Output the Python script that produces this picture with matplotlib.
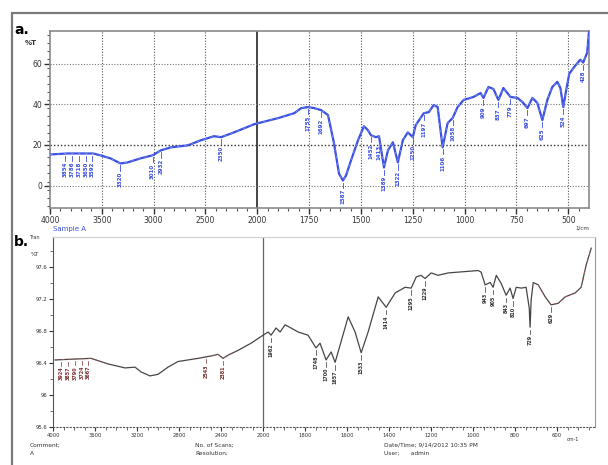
import numpy as np
import matplotlib.pyplot as plt
from matplotlib.patches import Rectangle
from matplotlib.ticker import FixedLocator, NullFormatter

# FTIR spectrum a (Sample A), wavenumber in 1/cm and transmittance in %T
wn_a = [4000, 3835, 3680, 3583, 3515, 3417, 3320, 3252, 3126, 3010, 2932, 2835,
        2670, 2544, 2417, 2350, 2223, 2029, 1899, 1822, 1788, 1755, 1726, 1692,
        1659, 1630, 1606, 1587, 1572, 1548, 1514, 1486, 1466, 1452, 1428, 1413,
        1389, 1370, 1346, 1322, 1298, 1274, 1250, 1236, 1197, 1173, 1149, 1130,
        1106, 1082, 1058, 1034, 1005, 957, 923, 909, 885, 861, 837, 813, 779,
        745, 721, 697, 673, 649, 625, 601, 577, 553, 538, 524, 510, 495, 470,
        442, 428, 409, 400]
t_a = [15.3, 15.8, 15.8, 15.8, 14.9, 13.4, 10.9, 11.4, 13.4, 14.9, 17.3, 18.8,
       19.8, 22.3, 24.3, 23.8, 26.2, 30.2, 33.2, 35.6, 38.1, 38.6, 38.1, 37.1,
       34.7, 20.8, 5.9, 2.5, 5.0, 12.4, 22.3, 29.2, 27.2, 24.8, 23.8, 24.3,
       8.9, 17.3, 21.3, 11.4, 22.3, 26.2, 23.8, 29.7, 35.6, 36.1, 39.6, 38.6,
       18.8, 30.7, 33.2, 38.6, 42.1, 43.6, 45.5, 43.1, 48.5, 47.5, 42.1, 48.0,
       43.6, 43.1, 41.1, 38.1, 43.1, 40.6, 32.2, 42.1, 48.5, 51.0, 48.0, 38.6,
       47.0, 55.0, 58.5, 61.9, 60.5, 65.3, 75.7]
peaks_a = [3854, 3786, 3718, 3650, 3592, 3320, 3010, 2932, 2350, 1755, 1692,
           1587, 1452, 1413, 1389, 1322, 1250, 1197, 1106, 1058, 909, 837, 779,
           697, 625, 524, 428]

# FTIR spectrum b
wn_b = [3980, 3638, 3476, 3314, 3219, 3162, 3076, 3000, 2905, 2810, 2619, 2495,
        2429, 2381, 2333, 2238, 2114, 2000, 1976, 1962, 1938, 1919, 1895, 1867,
        1833, 1786, 1748, 1729, 1700, 1676, 1657, 1633, 1595, 1562, 1533, 1500,
        1452, 1414, 1371, 1324, 1295, 1271, 1248, 1229, 1200, 1167, 1119, 976,
        962, 943, 919, 905, 890, 867, 843, 824, 810, 795, 771, 748, 733, 729,
        724, 714, 690, 657, 629, 595, 562, 514, 486, 462, 438]
t_b = [96.44, 96.46, 96.39, 96.34, 96.35, 96.29, 96.24, 96.26, 96.35, 96.42,
       96.46, 96.49, 96.51, 96.46, 96.50, 96.56, 96.65, 96.75, 96.79, 96.75,
       96.84, 96.79, 96.88, 96.84, 96.79, 96.75, 96.59, 96.65, 96.44, 96.54,
       96.41, 96.63, 96.98, 96.79, 96.53, 96.79, 97.23, 97.10, 97.28, 97.35,
       97.34, 97.48, 97.50, 97.46, 97.53, 97.50, 97.53, 97.56, 97.54, 97.38,
       97.41, 97.35, 97.50, 97.40, 97.25, 97.34, 97.21, 97.35, 97.34, 97.35,
       97.09, 96.85, 97.19, 97.41, 97.38, 97.23, 97.13, 97.15, 97.23, 97.28,
       97.35, 97.63, 97.84]
peaks_b_red = [3924, 3857, 3790, 3724, 3667, 2543, 2381]
peaks_b = [1962, 1748, 1700, 1657, 1533, 1414, 1295, 1229, 943, 905, 843, 810,
           729, 629]

ticks_a = [4000, 3500, 3000, 2500, 2000, 1750, 1500, 1250, 1000, 750, 500]
ticks_b = [4000, 3600, 3200, 2800, 2400, 2000, 1800, 1600, 1400, 1200, 1000,
           800, 600]
yticks_b = [95.6, 96.0, 96.4, 96.8, 97.2, 97.6]


def fwd(w):
    # region below 2000 1/cm is drawn at double scale
    w = np.asarray(w, dtype=float)
    return np.where(w >= 2000, w, 2 * w - 2000)


def inv(u):
    u = np.asarray(u, dtype=float)
    return np.where(u >= 2000, u, (u + 2000) / 2)


def curve_at(w, wn, t):
    return np.interp(w, wn[::-1], t[::-1])


fig = plt.figure(figsize=(6.08, 4.65), dpi=100)
fig.patches.append(Rectangle((12 / 608, -0.05), 1.0, 1.05 - 13 / 465,
                             transform=fig.transFigure, fill=False,
                             edgecolor='#7a7a7a', lw=1.6))

# ---- panel a ----
ax = fig.add_axes([50 / 608, 1 - 208 / 465, 539 / 608, 177 / 465])
ax.set_xscale('function', functions=(fwd, inv))
ax.set_xlim(4000, 400)
ax.set_ylim(-11, 76)
for x in ticks_a[1:]:
    if x == 2000:
        ax.axvline(x, color='#444444', lw=1.4, zorder=1)
    else:
        ax.axvline(x, color='#555555', lw=0.8, ls=(0, (1, 1.5)), zorder=1)
for y in [0, 20, 40, 60]:
    ax.axhline(y, color='#333333' if y == 20 else '#777777',
               lw=1.0 if y == 20 else 0.8, ls=(0, (1, 1.5)), zorder=1)
wa = np.array(wn_a)
ta = np.array(t_a)
ax.plot(wa, ta, color='#3b4fe0', lw=1.6, zorder=3)
ax.plot(wa, ta, color='#7f9cf0', lw=0.5, ls=(0, (4, 6)), zorder=4)
for p in peaks_a:
    v = curve_at(p, wa, ta)
    ax.plot([p, p], [v - 1.0, v - 3.5], color='#3b4fe0', lw=0.6, zorder=3)
    ax.text(p, v - 4, str(p), rotation=90, ha='center', va='top',
            fontsize=4, color='#3b4fe0', fontweight='bold', zorder=5)
for s in ax.spines.values():
    s.set_color('#8a8a8a')
    s.set_linewidth(1.2)
ax.xaxis.set_major_locator(FixedLocator(ticks_a))
ax.xaxis.set_minor_locator(FixedLocator(list(range(4000, 2000, -100)) +
                                        list(range(2000, 400, -50))))
ax.set_xticklabels([str(t) for t in ticks_a])
ax.set_yticks([0, 20, 40, 60])
ax.set_yticks(np.arange(-10, 76, 4), minor=True)
ax.tick_params(axis='both', which='major', labelsize=5.5, colors='#333333',
               length=4, width=1.0, pad=1.5)
ax.tick_params(axis='both', which='minor', length=2, width=0.8,
               colors='#555555')
ax.text(-0.025, 0.93, '%T', transform=ax.transAxes, ha='right', va='center',
        fontsize=5, color='#333333', fontweight='bold')
ax.text(0.005, -0.1, 'Sample A', transform=ax.transAxes, ha='left',
        va='top', fontsize=5, color='#3b4fe0')
ax.text(1.0, -0.1, '1/cm', transform=ax.transAxes, ha='right', va='top',
        fontsize=4, color='#333333')
fig.text(14 / 608, 1 - 30 / 465, 'a.', fontsize=10, fontweight='bold',
         va='center', ha='left')

# ---- panel b ----
bx = fig.add_axes([53 / 608, 1 - 427 / 465, 542 / 608, 190 / 465])
bx.set_xscale('function', functions=(fwd, inv))
bx.set_xlim(4000, 420)
bx.set_ylim(95.6, 97.98)
bx.axvline(2000, color='#666666', lw=0.9, zorder=1)
wb = np.array(wn_b)
tb = np.array(t_b)
bx.plot(wb, tb, color='#4a4545', lw=0.9, zorder=3)
for part in [wb > 3450, (wb > 2300) & (wb < 2600), wb < 700]:
    bx.plot(wb[part], tb[part], color='#b25a5a', lw=0.6, ls=(0, (3, 5)),
            zorder=4)
for p in peaks_b_red:
    v = curve_at(p, wb, tb)
    bx.plot([p, p], [v - 0.03, v - 0.08], color='#7a3030', lw=0.5)
    bx.text(p, v - 0.09, str(p), rotation=90, ha='center', va='top',
            fontsize=3.5, color='#7a3030', fontweight='bold')
for p in peaks_b:
    v = curve_at(p, wb, tb)
    bx.plot([p, p], [v - 0.03, v - 0.09], color='#333333', lw=0.5)
    bx.text(p, v - 0.10, str(p), rotation=90, ha='center', va='top',
            fontsize=3.5, color='#333333', fontweight='bold')
bx.spines['top'].set_color('#cfcfcf')
bx.spines['right'].set_color('#999999')
bx.spines['left'].set_color('#555555')
bx.spines['bottom'].set_color('#555555')
bx.spines['bottom'].set_linestyle((0, (1, 2)))
bx.xaxis.set_major_locator(FixedLocator(ticks_b))
bx.xaxis.set_minor_locator(FixedLocator(list(range(4000, 2000, -100)) +
                                        list(range(2000, 420, -50))))
bx.set_xticklabels([str(t) for t in ticks_b])
bx.set_yticks(yticks_b)
bx.set_yticklabels(['95.6', '96', '96.4', '96.8', '97.2', '97.6'])
bx.set_yticks(np.arange(95.6, 97.98, 0.2), minor=True)
bx.yaxis.set_minor_formatter(NullFormatter())
bx.tick_params(axis='both', which='major', labelsize=3.8, colors='#333333',
               length=3, width=0.8, pad=1.2)
bx.tick_params(axis='both', which='minor', length=2, width=0.6,
               colors='#555555')
bx.text(-0.025, 1.0, 'Tran', transform=bx.transAxes, ha='right', va='center',
        fontsize=3.5, color='#333333')
bx.text(-0.025, 0.91, '%T', transform=bx.transAxes, ha='right', va='center',
        fontsize=4, color='#333333')
bx.text(0.96, -0.05, 'cm-1', transform=bx.transAxes, ha='center', va='top',
        fontsize=3.5, color='#333333')
fig.text(14 / 608, 1 - 242 / 465, 'b.', fontsize=10, fontweight='bold',
         va='center', ha='left')
foot = [(30, 'Comment;', 'A'), (195, 'No. of Scans;', 'Resolution;'),
        (384, 'Date/Time; 9/14/2012 10:35 PM', 'User;      admin')]
for fx, line1, line2 in foot:
    fig.text(fx / 608, 1 - 445 / 465, line1, fontsize=4.2, color='#333333',
             va='center')
    fig.text(fx / 608, 1 - 453 / 465, line2, fontsize=4.2, color='#333333',
             va='center')

fig.savefig('out.png', dpi=100)
